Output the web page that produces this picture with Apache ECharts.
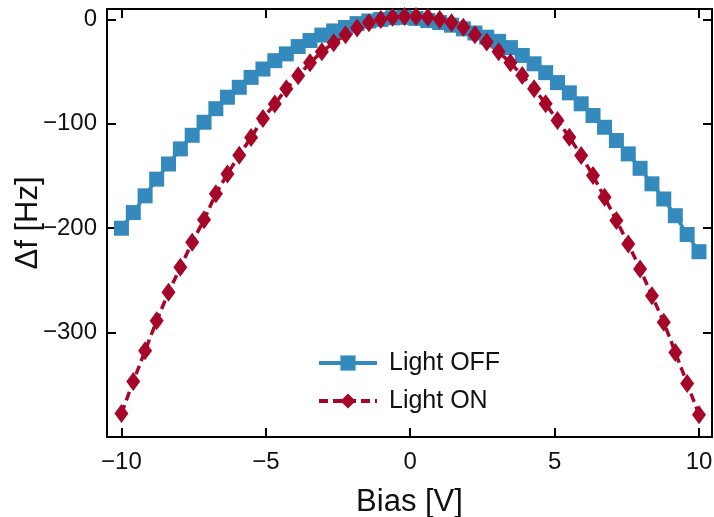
<!DOCTYPE html>
<html><head><meta charset="utf-8">
<script src="https://cdn.jsdelivr.net/npm/echarts@6/dist/echarts.min.js"></script>
<style>html,body{margin:0;padding:0;background:#fff}#c{width:714px;height:517px}</style>
</head><body><div id="c"></div>
<script>
// Bias values [V]
const biasV = [-10, -9.59, -9.18, -8.78, -8.37, -7.96, -7.55, -7.14, -6.73, -6.33,
  -5.92, -5.51, -5.10, -4.69, -4.29, -3.88, -3.47, -3.06, -2.65, -2.24,
  -1.84, -1.43, -1.02, -0.61, -0.20, 0.20, 0.61, 1.02, 1.43, 1.84,
  2.24, 2.65, 3.06, 3.47, 3.88, 4.29, 4.69, 5.10, 5.51, 5.92,
  6.33, 6.73, 7.14, 7.55, 7.96, 8.37, 8.78, 9.18, 9.59, 10];
// Δf [Hz], Light OFF
const lightOff = [-200, -185, -169, -153, -138.5, -124, -111, -98.5, -85.5, -74.5,
  -65, -55.5, -47.5, -39.5, -33, -26, -20.2, -15, -11, -7.7,
  -4, -1.5, 0, 1.5, 2, 1, -1, -3, -5.5, -9,
  -13, -17, -21, -27, -34.5, -42.5, -51, -60.5, -70.3, -80.8,
  -92, -103.3, -116, -128.8, -142.6, -157.5, -172, -188, -206, -222.5];
// Δf [Hz], Light ON
const lightOn = [-377.5, -346.8, -317.4, -288.6, -261.4, -237.5, -213.5, -192, -167, -148,
  -130, -113, -95, -81, -66.5, -54, -41.5, -31, -22.4, -14.7,
  -8.3, -3.2, 0, 2.2, 2.9, 2.9, 2.2, 0, -3.2, -7.4,
  -14.7, -21.7, -31, -41.5, -53.7, -66.5, -80.8, -96.8, -112.8, -130.4,
  -149.6, -170.4, -192.5, -215, -239, -264.6, -290, -319, -348.7, -378.7];
const xTicks = [-10, -5, 0, 5, 10];
const yTicks = [-300, -200, -100, 0];
const seriesNames = ['Light OFF', 'Light ON'];

const FONT = 'Liberation Sans';
const minus = v => String(v).replace('-', '\u2212');
const pairs = ys => biasV.map((x, i) => [x, ys[i]]);

function axisCommon(showLabels, ticks, margin) {
  return {
    axisLine: {show: true, onZero: false, lineStyle: {color: '#000', width: 2}},
    axisTick: {show: true, inside: true, length: 9, lineStyle: {color: '#000', width: 2}, customValues: ticks},
    axisLabel: {show: showLabels, customValues: ticks, formatter: minus, color: '#111',
      fontFamily: FONT, fontSize: 24, margin: margin},
    splitLine: {show: false}
  };
}

const chart = echarts.init(document.getElementById('c'), null, {renderer: 'canvas'});
chart.setOption({
  animation: false,
  backgroundColor: '#fff',
  grid: {left: 107, right: 2, top: 9, bottom: 80, containLabel: false, outerBoundsMode: 'none'},
  xAxis: [
    Object.assign({type: 'value', min: -10.5, max: 10.45, position: 'bottom',
      name: 'Bias [V]', nameLocation: 'middle', nameGap: 50, nameMoveOverlap: false,
      nameTextStyle: {fontFamily: FONT, fontSize: 31, color: '#111'}}, axisCommon(true, xTicks, 13)),
    Object.assign({type: 'value', min: -10.5, max: 10.45, position: 'top'}, axisCommon(false, xTicks, 10))
  ],
  yAxis: [
    Object.assign({type: 'value', min: -400, max: 10, position: 'left',
      name: '\u0394f [Hz]', nameLocation: 'middle', nameGap: 63, nameRotate: 90, nameMoveOverlap: false,
      nameTextStyle: {fontFamily: FONT, fontSize: 31, color: '#111'}}, axisCommon(true, yTicks, 10)),
    Object.assign({type: 'value', min: -400, max: 10, position: 'right'}, axisCommon(false, yTicks, 10))
  ],
  legend: {
    show: true, orient: 'vertical', left: 312, top: 345,
    itemWidth: 58, itemHeight: 19, itemGap: 12,
    lineStyle: {width: 4},
    textStyle: {fontFamily: FONT, fontSize: 25, color: '#111', lineHeight: 26, padding: [0, 0, 0, 7]},
    data: seriesNames
  },
  series: [
    {name: seriesNames[0], type: 'line', data: pairs(lightOff),
      symbol: 'rect', symbolSize: 15,
      itemStyle: {color: '#348ABD'},
      lineStyle: {color: '#348ABD', width: 3.5}},
    {name: seriesNames[1], type: 'line', data: pairs(lightOn),
      symbol: 'diamond', symbolSize: [14, 19],
      itemStyle: {color: '#A60628'},
      lineStyle: {color: '#A60628', width: 3.5, type: [9, 5]}}
  ]
});
</script></body></html>
